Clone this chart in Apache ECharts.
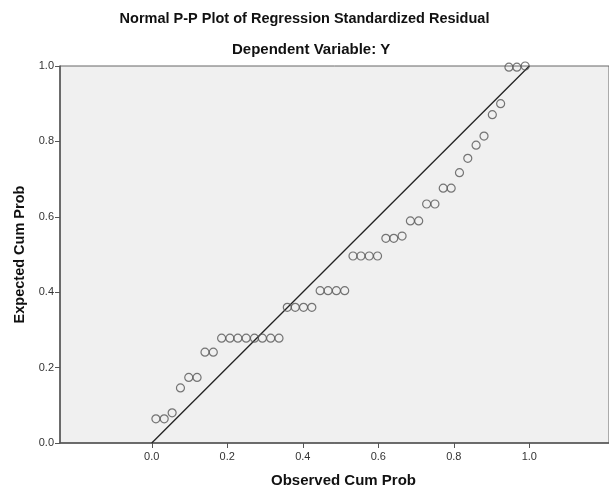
<!DOCTYPE html>
<html><head><meta charset="utf-8">
<script src="https://cdn.jsdelivr.net/npm/echarts@6/dist/echarts.min.js"></script>
<style>html,body{margin:0;padding:0;background:#fff}#c{width:609px;height:493px}</style>
</head><body><div id="c"></div>
<script>
const titleText = 'Normal P-P Plot of Regression Standardized Residual';
const subtitleText = 'Dependent Variable: Y';
const xName = 'Observed Cum Prob';
const yName = 'Expected Cum Prob';
const observed = [0.011,0.033,0.054,0.076,0.098,0.120,0.141,0.163,0.185,0.207,0.228,0.250,0.272,0.293,0.315,0.337,
  0.359,0.380,0.402,0.424,0.446,0.467,0.489,0.511,0.533,0.554,0.576,0.598,0.620,0.641,0.663,0.685,0.707,0.728,
  0.750,0.772,0.793,0.815,0.837,0.859,0.880,0.902,0.924,0.946,0.967,0.989];
const expected = [0.064,0.064,0.080,0.146,0.174,0.174,0.241,0.241,0.278,0.278,0.278,0.278,0.278,0.278,0.278,0.278,
  0.360,0.360,0.360,0.360,0.404,0.404,0.404,0.404,0.496,0.496,0.496,0.496,0.543,0.543,0.549,0.589,0.589,0.634,
  0.634,0.676,0.676,0.717,0.755,0.790,0.814,0.871,0.900,0.997,0.997,1.000];
const refLine = [[0,0],[1,1]];
const xTicks = [0,0.2,0.4,0.6,0.8,1.0];

const chart = echarts.init(document.getElementById('c'));
const font = '"Liberation Sans", Arial, sans-serif';
chart.setOption({
  animation:false,
  backgroundColor:'#fff',
  title:[
    {text:titleText, left:'center', top:6, textStyle:{fontFamily:font,fontSize:14.5,fontWeight:'bold',color:'#111'}},
    {text:subtitleText, left:227, top:37, textStyle:{fontFamily:font,fontSize:15,fontWeight:'bold',color:'#111'}}
  ],
  grid:{left:60,right:-1,top:66,bottom:50,show:true,backgroundColor:'#f0f0f0',borderColor:'#666',borderWidth:1},
  xAxis:{type:'value',min:-0.243,max:1.211,
    name:xName,nameLocation:'middle',nameGap:30,
    nameTextStyle:{fontFamily:font,fontSize:15,fontWeight:'bold',color:'#111',padding:[0,0,0,18]},
    axisLine:{show:true,onZero:false,lineStyle:{color:'#555',width:1.5}},
    axisTick:{show:true,length:5,customValues:xTicks,lineStyle:{color:'#555'}},
    axisLabel:{customValues:xTicks,fontFamily:font,fontSize:11,color:'#333',margin:8,formatter:v=>v.toFixed(1)},
    splitLine:{show:false}},
  yAxis:{type:'value',min:0,max:1,interval:0.2,
    name:yName,nameLocation:'middle',nameGap:29,
    nameTextStyle:{fontFamily:font,fontSize:14.5,fontWeight:'bold',color:'#111'},
    axisLine:{show:true,onZero:false,lineStyle:{color:'#555',width:1.5}},
    axisTick:{show:true,length:5,lineStyle:{color:'#555'}},
    axisLabel:{fontFamily:font,fontSize:11,color:'#333',margin:6,formatter:v=>v.toFixed(1)},
    splitLine:{show:false}},
  series:[
    {type:'line',data:refLine,symbol:'none',silent:true,lineStyle:{color:'#222',width:1.3},z:2},
    {type:'scatter',data:observed.map((x,i)=>[x,expected[i]]),symbol:'circle',symbolSize:8,
     itemStyle:{color:'rgba(0,0,0,0)',borderColor:'#555',borderWidth:1.2},z:3}
  ]
});
</script></body></html>
